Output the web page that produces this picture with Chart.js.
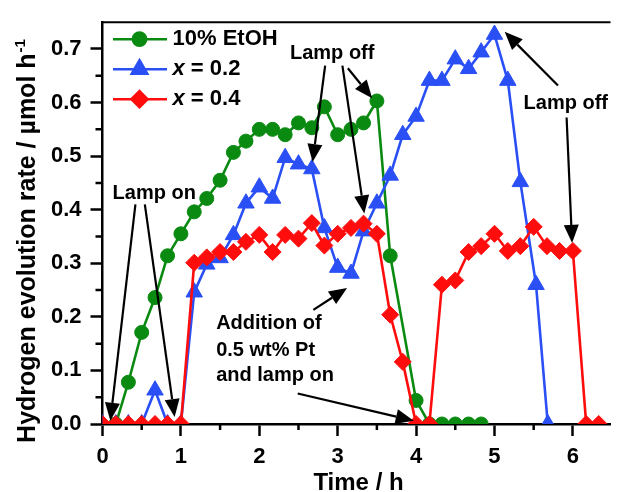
<!DOCTYPE html>
<html>
<head>
<meta charset="utf-8">
<script src="https://cdn.jsdelivr.net/npm/chart.js@4.4.1/dist/chart.umd.min.js"></script>
<style>
  html, body { margin: 0; padding: 0; background: #fff; }
</style>
</head>
<body>
<canvas id="chart" width="621" height="492"></canvas>
<script>
// Hydrogen evolution rate during irradiation, three runs

const etohTime = [0.17, 0.33, 0.5, 0.67, 0.83, 1.0, 1.17, 1.33, 1.5, 1.67, 1.83, 2.0, 2.17, 2.33,
                  2.5, 2.67, 2.83, 3.0, 3.17, 3.33, 3.5, 3.67, 4.0, 4.17, 4.33, 4.5, 4.67, 4.83];
const etohRate = [0, 0.078, 0.171, 0.236, 0.314, 0.355, 0.396, 0.421, 0.455, 0.507, 0.528, 0.55, 0.55, 0.54,
                  0.562, 0.553, 0.592, 0.54, 0.55, 0.562, 0.603, 0.314, 0.044, 0, 0, 0, 0, 0];

const x02Time = [0, 0.17, 0.33, 0.5, 0.67, 0.83, 1.0, 1.17, 1.33, 1.5, 1.67, 1.83, 2.0, 2.17, 2.33, 2.5,
                 2.67, 2.83, 3.0, 3.17, 3.33, 3.5, 3.67, 3.83, 4.0, 4.17, 4.33, 4.5, 4.67, 4.83, 5.0,
                 5.17, 5.33, 5.53, 5.68];
const x02Rate = [0, 0, 0, 0, 0.063, 0, 0, 0.246, 0.298, 0.31, 0.353, 0.412, 0.442, 0.421, 0.497, 0.485,
                 0.476, 0.366, 0.292, 0.281, 0.36, 0.412, 0.464, 0.54, 0.574, 0.641, 0.641, 0.681, 0.663, 0.694, 0.727,
                 0.641, 0.452, 0.26, 0];

const x04Time = [0, 0.17, 0.33, 0.5, 0.67, 0.83, 1.0, 1.17, 1.33, 1.5, 1.67, 1.83, 2.0, 2.17, 2.33, 2.5,
                 2.67, 2.83, 3.0, 3.17, 3.33, 3.5, 3.67, 3.83, 4.0, 4.17, 4.33, 4.5, 4.67, 4.83, 5.0,
                 5.17, 5.33, 5.5, 5.67, 5.83, 6.0, 6.17, 6.33];
const x04Rate = [0, 0, 0, 0, 0, 0, 0, 0.301, 0.311, 0.321, 0.321, 0.34, 0.353, 0.321, 0.353, 0.346,
                 0.375, 0.333, 0.355, 0.366, 0.374, 0.355, 0.204, 0.116, 0, 0, 0.26, 0.268, 0.321, 0.332, 0.355,
                 0.323, 0.332, 0.368, 0.332, 0.323, 0.323, 0, 0];

const timeTicks = [0, 1, 2, 3, 4, 5, 6];
const rateTicks = [0, 0.1, 0.2, 0.3, 0.4, 0.5, 0.6, 0.7];

// annotation text, anchored in data units
const notes = [
  { text: 'Lamp on',  x: 0.66, y: 0.43 },
  { text: 'Lamp off', x: 2.93, y: 0.691 },
  { text: 'Lamp off', x: 5.91, y: 0.599 }
];
const ptNote = [
  { text: 'Addition of', x: 1.45, y: 0.188 },
  { text: '0.5 wt% Pt',  x: 1.45, y: 0.137 },
  { text: 'and lamp on', x: 1.45, y: 0.090 }
];
// arrows: [fromTime, fromRate, toTime, toRate]
const arrows = [
  [0.42, 0.41, 0.10, 0.006],
  [0.54, 0.41, 0.92, 0.013],
  [2.84, 0.669, 2.68, 0.489],
  [3.06, 0.669, 3.34, 0.393],
  [3.13, 0.664, 3.44, 0.608],
  [5.81, 0.632, 5.13, 0.732],
  [5.92, 0.572, 5.99, 0.338],
  [2.69, 0.213, 3.12, 0.254],
  [2.49, 0.057, 3.97, 0.006]
];

const FONT = '"Liberation Sans", Arial, sans-serif';
const GREEN = '#0b8a12';
const BLUE = '#2a4ff5';
const RED = '#ff0d0d';

const pairs = (t, r) => t.map((x, i) => ({ x: x, y: r[i] }));
const near = (v, list) => list.some(t => Math.abs(t - v) < 1e-6);

function drawArrow(ctx, x1, y1, x2, y2) {
  const ang = Math.atan2(y2 - y1, x2 - x1);
  const len = 18, half = 7.5;
  const bx = x2 - Math.cos(ang) * len, by = y2 - Math.sin(ang) * len;
  ctx.beginPath();
  ctx.moveTo(x1, y1);
  ctx.lineTo(bx, by);
  ctx.stroke();
  ctx.beginPath();
  ctx.moveTo(x2, y2);
  ctx.lineTo(bx + Math.sin(ang) * half, by - Math.cos(ang) * half);
  ctx.lineTo(bx - Math.sin(ang) * half, by + Math.cos(ang) * half);
  ctx.closePath();
  ctx.fill();
}

const decorations = {
  id: 'decorations',
  afterDatasetsDraw(chart) {
    const { ctx, chartArea: a, scales: { x, y } } = chart;
    ctx.save();

    // frame top and minor ticks
    ctx.strokeStyle = '#000';
    ctx.lineWidth = 2;
    ctx.beginPath();
    ctx.moveTo(a.left, a.top);
    ctx.lineTo(a.right, a.top);
    ctx.stroke();
    ctx.lineWidth = 2.5;
    ctx.beginPath();
    for (let t = 0.5; t < x.max; t += 1) {
      const px = x.getPixelForValue(t);
      ctx.moveTo(px, a.bottom);
      ctx.lineTo(px, a.bottom + 6);
    }
    for (let r = 0.05; r < y.max - 0.01; r += 0.1) {
      const py = y.getPixelForValue(r);
      ctx.moveTo(a.left - 7, py);
      ctx.lineTo(a.left, py);
    }
    ctx.stroke();

    // arrows
    ctx.strokeStyle = '#000';
    ctx.fillStyle = '#000';
    ctx.lineWidth = 2.2;
    arrows.forEach(([t1, r1, t2, r2]) => {
      drawArrow(ctx, x.getPixelForValue(t1), y.getPixelForValue(r1),
                     x.getPixelForValue(t2), y.getPixelForValue(r2));
    });

    // annotation labels
    ctx.font = 'bold 20px ' + FONT;
    ctx.textBaseline = 'middle';
    ctx.textAlign = 'center';
    notes.forEach(n => ctx.fillText(n.text, x.getPixelForValue(n.x), y.getPixelForValue(n.y)));
    ctx.textAlign = 'left';
    ptNote.forEach(n => ctx.fillText(n.text, x.getPixelForValue(n.x), y.getPixelForValue(n.y)));
    ctx.restore();
  },
  afterDraw(chart) {
    const { ctx, chartArea: a } = chart;
    ctx.save();

    // legend
    chart.data.datasets.forEach((ds, i) => {
      const ly = a.top + 17 + i * 30;
      ctx.strokeStyle = ds.borderColor;
      ctx.lineWidth = 2.5;
      ctx.beginPath();
      ctx.moveTo(a.left + 10.5, ly);
      ctx.lineTo(a.left + 64.5, ly);
      ctx.stroke();
      ctx.fillStyle = ds.backgroundColor;
      Chart.helpers.drawPoint(ctx, {
        pointStyle: ds.pointStyle, radius: ds.pointRadius * 0.95, borderWidth: 1, rotation: 0
      }, a.left + 37, ly);
      ctx.fillStyle = '#000';
      ctx.textBaseline = 'middle';
      ctx.textAlign = 'left';
      let tx = a.left + 70;
      if (ds.label.startsWith('x')) {
        ctx.font = 'italic bold 22px ' + FONT;
        ctx.fillText('x', tx, ly);
        tx += ctx.measureText('x').width;
        ctx.font = 'bold 22px ' + FONT;
        ctx.fillText(ds.label.slice(1), tx, ly);
      } else {
        ctx.font = 'bold 22px ' + FONT;
        ctx.fillText(ds.label, tx, ly);
      }
    });

    // axis titles
    ctx.fillStyle = '#000';
    ctx.textBaseline = 'alphabetic';
    ctx.textAlign = 'center';
    ctx.font = 'bold 24px ' + FONT;
    ctx.fillText('Time / h', (a.left + a.right) / 2 + 2, 490);

    const main = 'Hydrogen evolution rate / \u00b5mol h';
    ctx.translate(35, 241);
    ctx.rotate(-Math.PI / 2);
    ctx.textAlign = 'left';
    ctx.font = 'bold 25px ' + FONT;
    const wMain = ctx.measureText(main).width;
    ctx.font = 'bold 15px ' + FONT;
    const wSup = ctx.measureText('-1').width;
    const x0 = -(wMain + wSup + 1) / 2;
    ctx.font = 'bold 25px ' + FONT;
    ctx.fillText(main, x0, 0);
    ctx.font = 'bold 15px ' + FONT;
    ctx.fillText('-1', x0 + wMain + 1, -10);
    ctx.restore();
  }
};

const tickFont = { family: FONT, size: 22, weight: 'bold' };

new Chart(document.getElementById('chart'), {
  type: 'scatter',
  data: {
    datasets: [
      {
        label: '10% EtOH', data: pairs(etohTime, etohRate),
        borderColor: GREEN, backgroundColor: GREEN, pointStyle: 'circle', pointRadius: 7,
        order: 2
      },
      {
        label: 'x = 0.2', data: pairs(x02Time, x02Rate),
        borderColor: BLUE, backgroundColor: BLUE, pointStyle: 'triangle', pointRadius: 9.5,
        order: 1
      },
      {
        label: 'x = 0.4', data: pairs(x04Time, x04Rate),
        borderColor: RED, backgroundColor: RED, pointStyle: 'rectRot', pointRadius: 8.5,
        order: 0
      }
    ].map(ds => Object.assign(ds, {
      showLine: true, borderWidth: 2.6, tension: 0, pointBorderWidth: 1,
      pointBorderColor: ds.borderColor, pointBackgroundColor: ds.backgroundColor, clip: 0
    }))
  },
  options: {
    responsive: false,
    animation: false,
    events: [],
    layout: { padding: { top: 16, right: 0, left: 0, bottom: 0 } },
    plugins: { legend: { display: false }, tooltip: { enabled: false } },
    scales: {
      x: {
        type: 'linear', min: 0, max: 6.48,
        afterFit: s => { s.height = 68; },
        border: { color: '#000', width: 2.5 },
        grid: {
          drawOnChartArea: false, tickLength: 12, tickWidth: 2.5,
          tickColor: c => (c.tick && near(c.tick.value, timeTicks)) ? '#000' : 'rgba(0,0,0,0)'
        },
        ticks: {
          stepSize: 0.5, includeBounds: false, autoSkip: false, maxRotation: 0, padding: 8,
          color: '#000', font: tickFont,
          callback: v => near(v, timeTicks) ? String(Math.round(v)) : ''
        }
      },
      y: {
        type: 'linear', min: 0, max: 0.75,
        afterFit: s => { s.width = 102.5; },
        border: { color: '#000', width: 2.5 },
        grid: {
          drawOnChartArea: false, tickLength: 12, tickWidth: 2.5,
          tickColor: c => (c.tick && near(c.tick.value, rateTicks)) ? '#000' : 'rgba(0,0,0,0)'
        },
        ticks: {
          stepSize: 0.05, includeBounds: false, autoSkip: false, padding: 9,
          color: '#000', font: tickFont,
          callback: v => near(v, rateTicks) ? v.toFixed(1) : ''
        }
      }
    }
  },
  plugins: [decorations]
});
</script>
</body>
</html>
